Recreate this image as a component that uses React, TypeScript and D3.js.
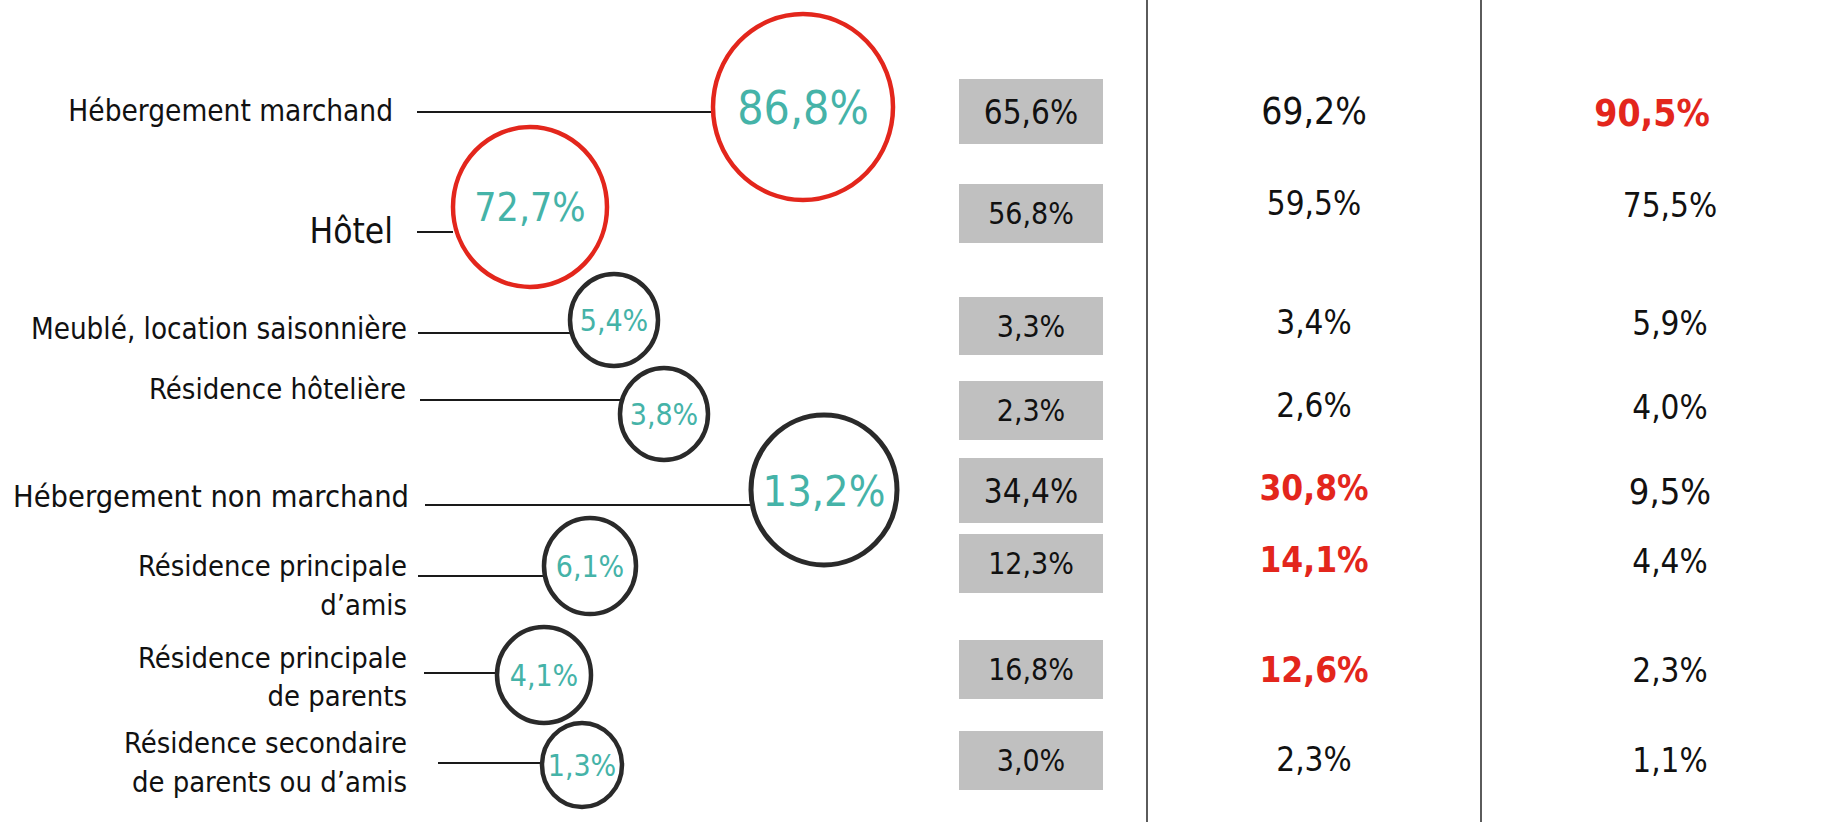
import React from "react";
import * as d3 from "d3";

// ---------- data ----------
const categories: string[][] = [
  ["Hébergement marchand"],
  ["Hôtel"],
  ["Meublé, location saisonnière"],
  ["Résidence hôtelière"],
  ["Hébergement non marchand"],
  ["Résidence principale", "d’amis"],
  ["Résidence principale", "de parents"],
  ["Résidence secondaire", "de parents ou d’amis"],
];
const bubbleValues = [86.8, 72.7, 5.4, 3.8, 13.2, 6.1, 4.1, 1.3];
const boxValues = [65.6, 56.8, 3.3, 2.3, 34.4, 12.3, 16.8, 3.0];
const col2Values = [69.2, 59.5, 3.4, 2.6, 30.8, 14.1, 12.6, 2.3];
const col3Values = [90.5, 75.5, 5.9, 4.0, 9.5, 4.4, 2.3, 1.1];
const bubbleHighlight = [true, true, false, false, false, false, false, false];
const col2Highlight = [false, false, false, false, true, true, true, false];
const col3Highlight = [true, false, false, false, false, false, false, false];
const headline = [true, false, false, false, true, false, false, false];

// ---------- layout (hand placed infographic) ----------
const layout = [
  { lx: 393, lfs: 29.5, lb: [121], cy: 112, x1: 417, bx: 803, by: 107, rx: 90, ry: 93, bfs: 46, b0: 79, b1: 144, c2: 110.5, c3: 112, c3x: 1652 },
  { lx: 393, lfs: 35, lb: [243], cy: 232, x1: 417, bx: 530, by: 207, rx: 77, ry: 80, bfs: 39, b0: 184, b1: 243, c2: 203, c3: 205, c3x: 1670 },
  { lx: 407, lfs: 29.3, lb: [339], cy: 333, x1: 418, bx: 614, by: 320, rx: 44, ry: 46, bfs: 30, b0: 297, b1: 355, c2: 321.5, c3: 322.5, c3x: 1670 },
  { lx: 406, lfs: 29, lb: [399], cy: 400, x1: 420, bx: 664, by: 414, rx: 44, ry: 46, bfs: 30, b0: 381, b1: 440, c2: 405, c3: 407, c3x: 1670 },
  { lx: 409, lfs: 30.5, lb: [507], cy: 505, x1: 425, bx: 824, by: 490, rx: 73, ry: 75, bfs: 43, b0: 458, b1: 523, c2: 487, c3: 491, c3x: 1670 },
  { lx: 407, lfs: 28.9, lb: [576, 615], cy: 576, x1: 418, bx: 590, by: 566, rx: 46, ry: 48, bfs: 30, b0: 534, b1: 593, c2: 559, c3: 561, c3x: 1670 },
  { lx: 407, lfs: 28.9, lb: [668, 706], cy: 673, x1: 424, bx: 544, by: 675, rx: 47, ry: 48, bfs: 30, b0: 640, b1: 699, c2: 669, c3: 670, c3x: 1670 },
  { lx: 407, lfs: 28.9, lb: [753, 792], cy: 763, x1: 438, bx: 582, by: 765, rx: 40, ry: 42, bfs: 30, b0: 731, b1: 790, c2: 759, c3: 760, c3x: 1670 },
];

const W = 1833;
const H = 822;
const FONT = "'DejaVu Sans Condensed', 'DejaVu Sans', sans-serif";
const TEAL = "#45b3a8";
const RED = "#e3261c";
const DARK = "#2a2a2a";
const GRAY = "#c0c0c0";

const fmt = (v: number) => d3.format(".1f")(v).replace(".", ",") + "%";
const base = (cy: number, fs: number) => cy + 0.365 * fs;

// column scale for the table part
const colScale = d3.scalePoint<string>().domain(["box", "c2"]).range([1031, 1314]);
const sepX = [1147, 1481];

export default function App() {
  return (
    <svg
      width={W}
      height={H}
      viewBox={`0 0 ${W} ${H}`}
      style={{ position: "absolute", left: 0, top: 0, background: "#fff", display: "block" }}
      fontFamily={FONT}
    >
      <rect width={W} height={H} fill="#fff" />
      {sepX.map((x, i) => (
        <line key={i} x1={x} x2={x} y1={0} y2={H} stroke="#333" strokeWidth={1.6} />
      ))}
      {categories.map((lines, i) => {
        const L = layout[i];
        const bw = 144;
        const cx = colScale("box")!;
        return (
          <g key={i}>
            {lines.map((t, j) => (
              <text key={j} x={L.lx} y={L.lb[j]} textAnchor="end" fontSize={L.lfs} fill="#111">
                {t}
              </text>
            ))}
            <line x1={L.x1} x2={L.bx - L.rx} y1={L.cy} y2={L.cy} stroke="#1a1a1a" strokeWidth={2} />
            <ellipse
              cx={L.bx}
              cy={L.by}
              rx={L.rx}
              ry={L.ry}
              fill="#fff"
              stroke={bubbleHighlight[i] ? RED : DARK}
              strokeWidth={i === 4 ? 5 : 4.5}
            />
            <text x={L.bx} y={base(L.by, L.bfs)} textAnchor="middle" fontSize={L.bfs} fill={TEAL}>
              {fmt(bubbleValues[i])}
            </text>
            <rect x={cx - bw / 2} y={L.b0} width={bw} height={L.b1 - L.b0} fill={GRAY} />
            <text
              x={cx}
              y={base((L.b0 + L.b1) / 2, headline[i] ? 33 : 30)}
              textAnchor="middle"
              fontSize={headline[i] ? 33 : 30}
              fill="#111"
            >
              {fmt(boxValues[i])}
            </text>
            <text
              x={colScale("c2")!}
              y={base(L.c2, col2Highlight[i] ? 35 : headline[i] ? 37 : 33)}
              textAnchor="middle"
              fontSize={col2Highlight[i] ? 35 : headline[i] ? 37 : 33}
              fontWeight={col2Highlight[i] ? "bold" : "normal"}
              fill={col2Highlight[i] ? RED : "#111"}
            >
              {fmt(col2Values[i])}
            </text>
            <text
              x={L.c3x}
              y={base(L.c3, col3Highlight[i] ? 37 : headline[i] ? 36 : 33)}
              textAnchor="middle"
              fontSize={col3Highlight[i] ? 37 : headline[i] ? 36 : 33}
              fontWeight={col3Highlight[i] ? "bold" : "normal"}
              fill={col3Highlight[i] ? RED : "#111"}
            >
              {fmt(col3Values[i])}
            </text>
          </g>
        );
      })}
    </svg>
  );
}
